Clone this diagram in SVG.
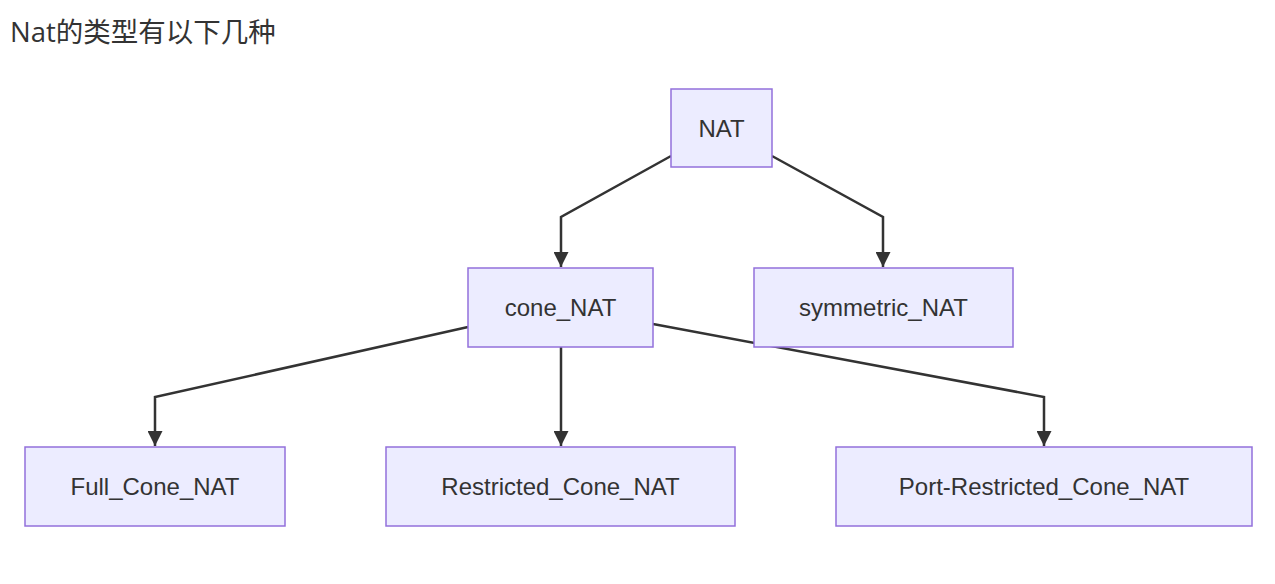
<svg xmlns="http://www.w3.org/2000/svg" width="1275" height="584" viewBox="0 0 1275 584">
<style>
.node rect{fill:#ECECFF;stroke:#9370DB;stroke-width:1.5}
.node text{font-family:"Liberation Sans",Arial,sans-serif;font-size:24px;fill:#333;text-anchor:middle;dominant-baseline:central}
.edge{fill:none;stroke:#333;stroke-width:2.5;stroke-linejoin:miter}
.title{font-family:"Open Sans","Noto Sans CJK SC",sans-serif;font-size:27.5px;fill:#333}
</style>
<defs>
<marker id="arrow" viewBox="0 0 10 10" refX="10" refY="5" markerUnits="userSpaceOnUse" markerWidth="15" markerHeight="15" orient="auto">
<path d="M0,0 L10,5 L0,10 z" fill="#333"/>
</marker>
</defs>
<rect width="1275" height="584" fill="#fff"/>
<text class="title" x="10" y="42">Nat的类型有以下几种</text>
<g id="connectors">
<path class="edge" d="M671,156 L561,217 L561,267" marker-end="url(#arrow)"/>
<path class="edge" d="M772,156 L883,217 L883,267" marker-end="url(#arrow)"/>
<path class="edge" d="M468,327 L155,397 L155,446" marker-end="url(#arrow)"/>
<path class="edge" d="M561,347 L561,446" marker-end="url(#arrow)"/>
<path class="edge" d="M653,324 L1044,397 L1044,446" marker-end="url(#arrow)"/>
</g>
<g id="NAT" class="node"><rect x="671" y="89" width="101" height="78"/><text x="721.5" y="128">NAT</text></g>
<g id="cone_NAT" class="node"><rect x="468" y="268" width="185" height="79"/><text x="560.5" y="307.5">cone_NAT</text></g>
<g id="symmetric_NAT" class="node"><rect x="754" y="268" width="259" height="79"/><text x="883.5" y="307.5">symmetric_NAT</text></g>
<g id="Full_Cone_NAT" class="node"><rect x="25" y="447" width="260" height="79"/><text x="155" y="486.5">Full_Cone_NAT</text></g>
<g id="Restricted_Cone_NAT" class="node"><rect x="386" y="447" width="349" height="79"/><text x="560.5" y="486.5">Restricted_Cone_NAT</text></g>
<g id="Port-Restricted_Cone_NAT" class="node"><rect x="836" y="447" width="416" height="79"/><text x="1044" y="486.5">Port-Restricted_Cone_NAT</text></g>
</svg>
